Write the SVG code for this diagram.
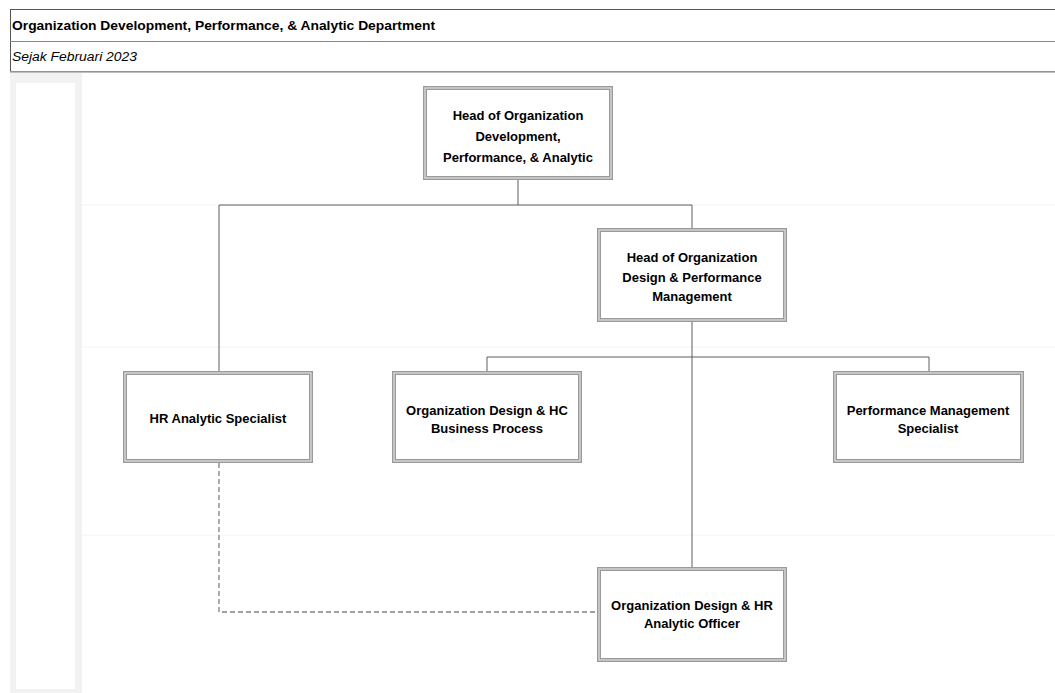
<svg xmlns="http://www.w3.org/2000/svg" width="1055" height="693" viewBox="0 0 1055 693">
<style>
.t{font-family:"Liberation Sans",Arial,sans-serif;font-size:13px;font-weight:bold;fill:#000;text-anchor:middle}
.h{font-family:"Liberation Sans",Arial,sans-serif;font-size:12px;fill:#000}
.bo{fill:#fff;stroke:#9a9a9a;stroke-width:4}
.bi{fill:none;stroke:#dcdcdc;stroke-width:1.3}
.c{fill:none;stroke:#5e5e5e;stroke-width:1}
.d{fill:none;stroke:#808080;stroke-width:1.3;stroke-dasharray:5,3}
.f{stroke:#f4f4f4;stroke-width:1}
</style>
<rect x="0" y="0" width="1055" height="693" fill="#fff"/>
<g id="background">
<rect x="10" y="73" width="72" height="620" fill="#f2f2f2"/>
<rect x="16" y="83" width="59" height="606" fill="#fff"/>
<line class="f" x1="82" y1="205" x2="1055" y2="205"/>
<line class="f" x1="82" y1="347" x2="1055" y2="347"/>
<line class="f" x1="82" y1="535" x2="1055" y2="535"/>
</g>
<g id="header">
<rect x="10.5" y="9.5" width="1050" height="62" fill="#fff" stroke="#555" stroke-width="1"/>
<line x1="10" y1="41.5" x2="1055" y2="41.5" stroke="#888" stroke-width="1.2"/>
<line x1="10" y1="72" x2="1055" y2="72" stroke="#aaa" stroke-width="1.5"/>
<text class="h" x="12" y="29.5" font-weight="bold" textLength="423" lengthAdjust="spacingAndGlyphs">Organization Development, Performance, &amp; Analytic Department</text>
<text class="h" x="12" y="61" font-style="italic" textLength="125" lengthAdjust="spacingAndGlyphs">Sejak Februari 2023</text>
</g>
<g id="connectors">
<polyline class="c" points="518,180 518,205"/>
<polyline class="c" points="219,371 219,205 692,205 692,228"/>
<polyline class="c" points="692,322 692,567"/>
<polyline class="c" points="487,371 487,357 929,357 929,371"/>
<polyline class="d" points="219,463 219,612 597,612"/>
</g>
<g id="node-head-odpa">
<rect class="bo" x="425" y="88" width="186" height="90"/>
<rect class="bi" x="425" y="88" width="186" height="90"/>
<text class="t" x="518" y="120">Head of Organization</text>
<text class="t" x="518" y="141">Development,</text>
<text class="t" x="518" y="162">Performance, &amp; Analytic</text>
</g>
<g id="node-head-odpm">
<rect class="bo" x="599" y="230" width="186" height="90"/>
<rect class="bi" x="599" y="230" width="186" height="90"/>
<text class="t" x="692" y="262">Head of Organization</text>
<text class="t" x="692" y="282">Design &amp; Performance</text>
<text class="t" x="692" y="301">Management</text>
</g>
<g id="node-hr-analytic">
<rect class="bo" x="125" y="373" width="186" height="88"/>
<rect class="bi" x="125" y="373" width="186" height="88"/>
<text class="t" x="218" y="423">HR Analytic Specialist</text>
</g>
<g id="node-od-hc">
<rect class="bo" x="394" y="373" width="186" height="88"/>
<rect class="bi" x="394" y="373" width="186" height="88"/>
<text class="t" x="487" y="415">Organization Design &amp; HC</text>
<text class="t" x="487" y="433">Business Process</text>
</g>
<g id="node-pm">
<rect class="bo" x="835" y="373" width="187" height="88"/>
<rect class="bi" x="835" y="373" width="187" height="88"/>
<text class="t" x="928" y="415">Performance Management</text>
<text class="t" x="928" y="433">Specialist</text>
</g>
<g id="node-od-hr-officer">
<rect class="bo" x="599" y="569" width="186" height="91"/>
<rect class="bi" x="599" y="569" width="186" height="91"/>
<text class="t" x="692" y="610">Organization Design &amp; HR</text>
<text class="t" x="692" y="628">Analytic Officer</text>
</g>
</svg>
